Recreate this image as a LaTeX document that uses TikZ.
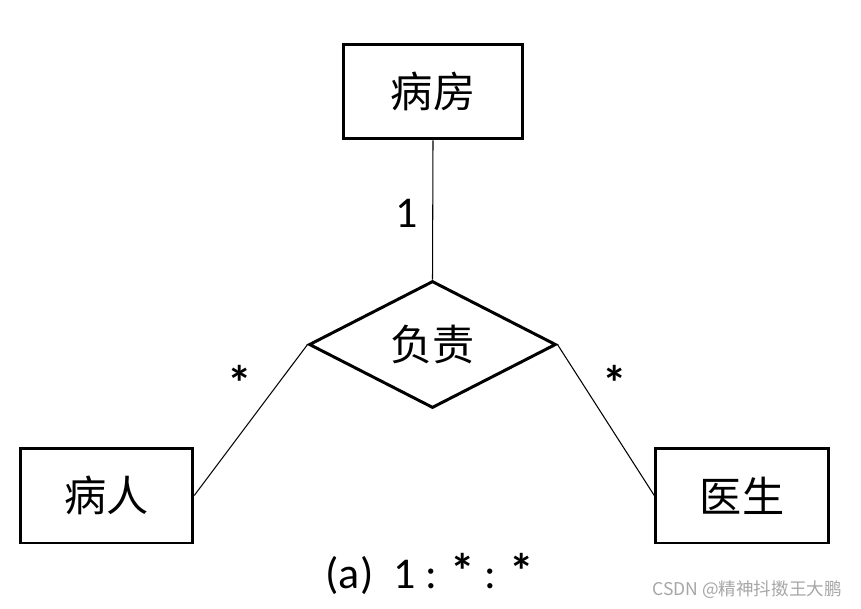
\documentclass[tikz,border=0pt]{standalone}
\usepackage{fontspec}
\setmainfont{Carlito}
\newfontfamily\cjk{Noto Sans CJK SC}
\usetikzlibrary{shapes.geometric}
\begin{document}
\begin{tikzpicture}[x=0.02cm,y=-0.02cm,
  ent/.style={draw,line width=1.7pt,minimum width=3.45cm,minimum height=1.9cm,font=\cjk\fontsize{24}{26}\selectfont},
  rel/.style={draw,line width=1.7pt,diamond,aspect=1.95,inner sep=0pt,minimum width=4.94cm,minimum height=2.54cm,font=\cjk\fontsize{24}{26}\selectfont},
  lbl/.style={font=\fontsize{25}{28}\selectfont},
  conn/.style={line width=0.6pt}]
\useasboundingbox (0,0) rectangle (861,608);
\node[ent,minimum width=3.6cm] (room) at (433,91.5) {病房};
\node[ent] (pat) at (106.5,495.5) {病人};
\node[ent] (doc) at (742,495.5) {医生};
\node[rel] (r) at (432.5,344.5) {负责};
\draw[conn] (room.south) -- (r.north);
\draw[conn] (r.west) -- (pat.east);
\draw[conn] (r.east) -- (doc.west);
\node[lbl] (l1) at (407,213) {1};
\node[lbl,font=\bfseries\fontsize{28}{30}\selectfont] (l2) at (240,383) {*};
\node[lbl,font=\bfseries\fontsize{28}{30}\selectfont] (l3) at (615,383) {*};
\node[lbl] (cap) at (430,574) {(a)\ \ 1 : {\bfseries\fontsize{28}{30}\selectfont *} : {\bfseries\fontsize{28}{30}\selectfont *}};
\node[font=\cjk\fontsize{10}{12}\selectfont,text=gray!70,anchor=east] (wm) at (848,590) {CSDN @精神抖擞王大鹏};
\end{tikzpicture}
\end{document}
